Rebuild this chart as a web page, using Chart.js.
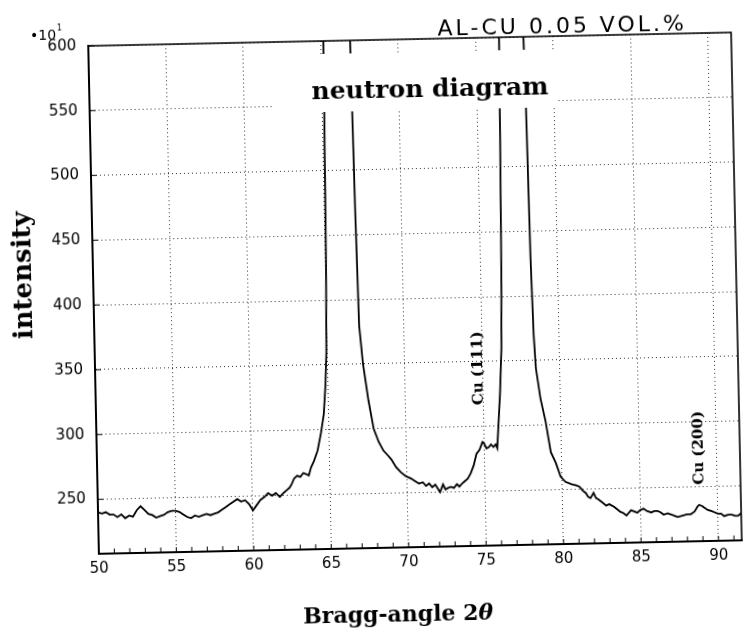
<!DOCTYPE html>
<html>
<head>
<meta charset="utf-8">
<title>neutron diagram</title>
<script src="https://cdn.jsdelivr.net/npm/chart.js@4.4.1/dist/chart.umd.min.js"></script>
<style>
	body{margin:0;background:#fff;overflow:hidden;}
	#wrap{width:746px;height:634px;background:#fff;}
	/* the original sheet sits slightly crooked on the scanner */
	#braggChart{transform:rotate(-1.2deg);transform-origin:373px 317px;}
</style>
</head>
<body>
<div id="wrap"><canvas id="braggChart" width="746" height="634"></canvas></div>
<script>
// Bragg angle 2theta (deg) and intensity (x10^1 counts)
var angle = [
	50.0,50.25,50.5,50.75,51.0,51.25,51.5,51.75,52.0,52.25,52.5,52.75,53.0,53.25,53.5,53.75,
	54.0,54.25,54.5,54.75,55.0,55.25,55.5,55.75,56.0,56.25,56.5,56.75,57.0,57.25,57.5,57.75,
	58.0,58.25,58.5,58.75,59.0,59.25,59.5,59.75,60.0,60.25,60.5,60.75,61.0,61.25,61.5,61.75,
	62.0,62.2,62.4,62.55,62.7,62.9,63.1,63.3,63.5,63.65,63.8,64.0,64.25,64.5,64.7,64.85,
	64.95,65.05,65.15,65.25,65.6,66.0,66.5,66.8,66.9,67.0,67.1,67.3,67.6,67.9,68.2,68.5,
	68.8,69.0,69.3,69.6,69.9,70.25,70.5,70.75,71.0,71.2,71.4,71.6,71.8,72.0,72.1,72.3,
	72.45,72.6,72.8,73.0,73.2,73.35,73.5,73.7,73.9,74.1,74.3,74.5,74.7,74.9,75.0,75.15,
	75.3,75.45,75.6,75.75,75.85,75.95,76.1,76.25,76.35,76.45,76.55,76.8,77.2,77.7,78.0,78.15,
	78.25,78.35,78.45,78.7,79.0,79.3,79.6,79.9,80.2,80.6,80.9,81.1,81.3,81.5,81.65,81.8,
	82.0,82.15,82.3,82.5,82.8,83.0,83.3,83.5,83.7,83.9,84.1,84.25,84.4,84.6,84.8,85.0,
	85.2,85.45,85.7,85.9,86.1,86.3,86.5,86.75,87.0,87.2,87.4,87.7,88.0,88.25,88.5,88.7,
	88.8,89.0,89.1,89.35,89.6,89.8,90.0,90.2,90.4,90.65,90.9,91.1,91.3,91.5
];
var intensity = [
	240,239,240,238,238,236,238,235,237,236,241,244,241,238,237,235,
	236,237,239,240,240,239,237,235,234,236,235,236,237,236,237,238,
	240,242,244,246,248,246,247,244,239,243,247,249,252,250,252,249,
	252,254,256,259,263,265,264,267,266,265,271,276,284,298,312,335,
	360,430,560,700,900,950,820,680,600,470,380,350,322,300,290,283,
	279,276,270,266,263,261,259,257,258,255,257,254,256,252,250,256,
	252,253,254,253,256,254,256,258,260,264,270,279,282,288,287,283,
	284,286,284,286,283,300,325,360,420,520,640,900,1000,850,660,560,
	430,370,344,321,303,279,271,260,256,254,253,252,249,247,244,243,
	247,243,242,240,237,238,236,234,232,231,229,231,233,232,231,233,
	234,232,231,232,232,231,229,230,229,228,227,228,229,229,231,235,
	236,235,234,232,231,230,229,229,227,228,228,227,227,229
];

var xTicks = [50,55,60,65,70,75,80,85,90];
var yTicks = [250,300,350,400,450,500,550,600];
var minorTicks = [50,51,52,53,54,55,56,57,58,59,60,61,62,63,64,65,66,67,68,69,70,
	71,72,73,74,75,76,77,78,79,80,81,82,83,84,85,86,87,88,89,90,91];

var peakNames = ['Cu (111)','Cu (200)'];
var peakAngle = [74.75, 88.83];
var peakLevel = [345, 280];

var titleText = 'neutron diagram';
var sampleText = 'AL-CU 0.05 VOL.%';
var xTitle = 'Bragg-angle 2';
var xTitleSym = '\u03b8';
var yTitle = 'intensity';

var main={
	initPage:function(){
		main.drawChart();
	},
	drawChart:function(){
		var points = angle.map(function(a,i){ return {x:a, y:intensity[i]}; });
		new Chart(document.getElementById('braggChart'), {
			type:'line',
			data:{
				datasets:[{
					data:points,
					borderColor:'#000',
					borderWidth:1.8,
					pointRadius:0,
					tension:0,
					fill:false,
					clip:0
				}]
			},
			options:{
				responsive:false,
				animation:false,
				devicePixelRatio:1,
				layout:{padding:{top:40,right:9,left:0,bottom:0}},
				plugins:{legend:{display:false},tooltip:{enabled:false},title:{display:false}},
				scales:{
					x:{
						type:'linear', min:50, max:91.5,
						afterBuildTicks:function(s){ s.ticks = xTicks.map(function(v){return {value:v};}); },
						afterFit:function(s){ s.height = 86; },
						grid:{color:'#333', lineWidth:1, drawTicks:false},
						border:{display:true, color:'#000', width:2, dash:[1,3]},
						ticks:{color:'#000', font:{family:'DejaVu Sans', size:15}, padding:6, maxRotation:0, autoSkip:false}
					},
					y:{
						type:'linear', min:208, max:600,
						afterBuildTicks:function(s){ s.ticks = yTicks.map(function(v){return {value:v};}); },
						afterFit:function(s){ s.width = 94; },
						grid:{color:'#333', lineWidth:1, drawTicks:false},
						border:{display:true, color:'#000', width:2, dash:[1,3]},
						ticks:{color:'#000', font:{family:'DejaVu Sans', size:15}, padding:12, autoSkip:false}
					}
				}
			},
			plugins:[paperPlugin]
		});
	}
};

// frame, small ticks, inset title and labels
var paperPlugin = {
	id:'paper',
	afterDraw:function(chart){
		var ctx = chart.ctx, area = chart.chartArea;
		var xs = chart.scales.x, ys = chart.scales.y;
		ctx.save();

		// white patch behind the inset title
		ctx.font = 'bold 25px "DejaVu Serif"';
		var tw = ctx.measureText(titleText).width;
		var cx = area.left + area.width*0.53;
		ctx.fillStyle = '#fff';
		ctx.fillRect(cx - tw/2 - 40, area.top + 13, tw + 48, 58);
		ctx.fillStyle = '#000';
		ctx.textAlign = 'center';
		ctx.textBaseline = 'alphabetic';
		ctx.fillText(titleText, cx, area.top + 58);

		// top and right frame
		ctx.strokeStyle = '#000';
		ctx.lineWidth = 1.6;
		ctx.beginPath();
		ctx.moveTo(area.left, area.top);
		ctx.lineTo(area.right, area.top);
		ctx.lineTo(area.right, area.bottom);
		ctx.stroke();

		// small inward ticks
		ctx.lineWidth = 1;
		minorTicks.forEach(function(v){
			var px = xs.getPixelForValue(v);
			ctx.beginPath();
			ctx.moveTo(px, area.bottom);
			ctx.lineTo(px, area.bottom - 5);
			ctx.stroke();
		});
		yTicks.forEach(function(v){
			var py = ys.getPixelForValue(v);
			ctx.beginPath();
			ctx.moveTo(area.left, py);
			ctx.lineTo(area.left + 6, py);
			ctx.stroke();
		});

		// peak labels
		ctx.font = 'bold 15px "DejaVu Serif"';
		ctx.textBaseline = 'middle';
		peakNames.forEach(function(name,i){
			ctx.save();
			ctx.translate(xs.getPixelForValue(peakAngle[i]), ys.getPixelForValue(peakLevel[i]));
			ctx.rotate(-Math.PI/2);
			ctx.fillText(name, 0, 0);
			ctx.restore();
		});

		// axis titles
		ctx.textBaseline = 'alphabetic';
		ctx.textAlign = 'left';
		ctx.font = 'bold 22px "DejaVu Serif"';
		var w1 = ctx.measureText(xTitle).width;
		ctx.font = 'bold italic 22px "DejaVu Serif"';
		var w2 = ctx.measureText(xTitleSym).width;
		var x0 = 392 - (w1 + w2)/2;
		ctx.font = 'bold 22px "DejaVu Serif"';
		ctx.fillText(xTitle, x0, 622);
		ctx.font = 'bold italic 22px "DejaVu Serif"';
		ctx.fillText(xTitleSym, x0 + w1, 622);

		ctx.save();
		ctx.translate(25, 268);
		ctx.rotate(-Math.PI/2);
		ctx.textAlign = 'center';
		ctx.font = 'bold 26px "DejaVu Serif"';
		ctx.textBaseline = 'middle';
		ctx.fillText(yTitle, 0, 0);
		ctx.restore();

		// sample name, top right
		ctx.font = '22px "DejaVu Sans"';
		ctx.textAlign = 'right';
		ctx.textBaseline = 'alphabetic';
		ctx.letterSpacing = '3px';
		ctx.fillText(sampleText, 693, 37);
		ctx.letterSpacing = '0px';

		// scale factor
		ctx.textAlign = 'left';
		ctx.font = '14px "DejaVu Sans"';
		ctx.fillText('\u202210', 36, 33);
		ctx.font = '8px "DejaVu Sans"';
		ctx.fillText('1', 63, 24);

		ctx.restore();
	}
};

document.addEventListener('DOMContentLoaded', function(){
	main.initPage();
});
</script>
</body>
</html>
